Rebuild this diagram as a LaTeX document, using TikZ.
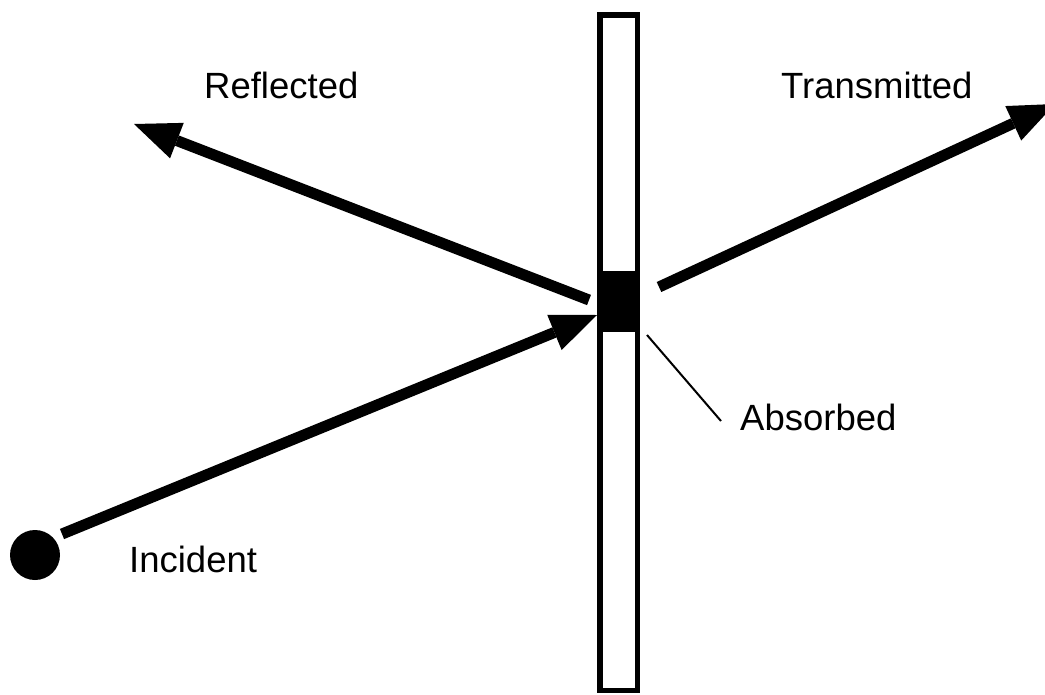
\documentclass[tikz,border=0pt]{standalone}
\usepackage{fontspec}
\setmainfont{Liberation Sans}
\usetikzlibrary{arrows.meta}
\begin{document}
\begin{tikzpicture}[x=1pt,y=-1pt,
  lbl/.style={font=\fontsize{36.5pt}{40pt}\selectfont, inner sep=0pt, anchor=base west},
  ray/.style={line width=11pt, line cap=butt,
    -{Triangle[length=46pt,width=38pt,line width=0pt]}},
  leader/.style={line width=2pt}]
\useasboundingbox (0,0) rectangle (1045,694);
\clip (0,0) rectangle (1045,694);
% slab
\node[draw, line width=5.5pt, minimum width=37.5pt, minimum height=675.5pt,
      inner sep=0pt, outer sep=0pt] (slab) at (618.5,352.5) {};
% absorbing region
\node[fill=black, minimum width=43pt, minimum height=61pt,
      inner sep=0pt, outer sep=0pt] (abs) at (618.5,301.2) {};
% source
\node[circle, fill=black, minimum size=50pt, inner sep=0pt] (src) at (35,555) {};
% ray end points
\coordinate (incS) at (62,534);
\coordinate (incT) at (597,315);
\coordinate (refS) at (589,300);
\coordinate (refT) at (134,124);
\coordinate (traS) at (659,287);
\coordinate (traT) at (1055,104);
\coordinate (leadS) at (647,335);
\coordinate (leadT) at (721,421);
% rays
\draw[ray] (incS) -- (incT);
\draw[ray] (refS) -- (refT);
\draw[ray] (traS) -- (traT);
\draw[leader] (leadS) -- (leadT);
% labels
\node[lbl] (lref) at (204,98.5) {Reflected};
\node[lbl] (ltra) at (781,98.5) {Transmitted};
\node[lbl] (linc) at (129,572) {Incident};
\node[lbl] (labs) at (740,430) {Absorbed};
\end{tikzpicture}
\end{document}
